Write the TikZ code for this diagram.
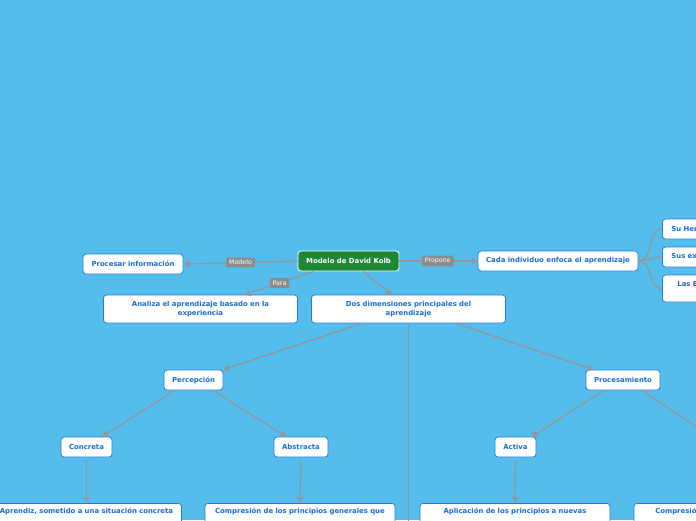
\documentclass[tikz,border=0pt]{standalone}
\usepackage{fontspec}
\setmainfont{DejaVu Sans}
\usetikzlibrary{arrows.meta}
\definecolor{bg}{RGB}{85,189,235}
\definecolor{nodeblue}{RGB}{30,125,225}
\definecolor{txtblue}{RGB}{25,110,210}
\definecolor{kgreen}{RGB}{30,135,55}
\definecolor{lgrey}{RGB}{150,150,150}
\definecolor{labgrey}{RGB}{140,140,140}
\tikzset{
  box/.style={draw=nodeblue, line width=0.8pt, fill=white, rounded corners=3pt,
    text=txtblue, font=\fontsize{6.9}{9}\selectfont\bfseries, minimum height=20pt, inner xsep=7pt, align=center},
  boxtwo/.style={box, minimum height=28pt, minimum width=191pt, text width=180pt},
  boxbottom/.style={box, anchor=north, minimum width=190pt, text width=182pt, inner xsep=4pt, inner ysep=5pt},
  sidebox/.style={box, anchor=west, align=left, inner xsep=9pt},
  rootbox/.style={draw=white, line width=0.8pt, fill=kgreen, rounded corners=3pt,
    text=white, font=\fontsize{6.9}{9}\selectfont\bfseries, minimum height=20pt, minimum width=101pt},
  arr/.style={draw=lgrey, line width=1.2pt, -{Triangle[length=5.5pt,width=6.5pt]}},
  plain/.style={draw=lgrey, line width=1.2pt},
  lab/.style={fill=labgrey, text=white, font=\fontsize{6.3}{7}\selectfont, inner xsep=3pt, inner ysep=2.5pt, rounded corners=1pt}
}
\begin{document}
\begin{tikzpicture}[x=1pt,y=-1pt]
\useasboundingbox (0,0) rectangle (696,520);
\clip (0,0) rectangle (696,520);
\fill[bg] (0,0) rectangle (696,520);

\node[rootbox] (root) at (348.5,261) {Modelo de David Kolb};
\node[box, minimum width=100pt] (proc) at (133,264) {Procesar información};
\node[boxtwo] (anal) at (200.5,309) {Analiza el aprendizaje basado en la\\experiencia};
\node[boxtwo] (dos) at (408.5,309) {Dos dimensiones principales del\\aprendizaje};
\node[box, minimum width=160pt] (cada) at (558,261) {Cada individuo enfoca el aprendizaje};
\node[sidebox, text width=60pt] (her) at (662,229) {Su Herencia};
\node[sidebox, text width=80pt] (exp) at (662,257) {Sus experiencias};
\node[box, anchor=west, align=center, minimum height=27pt, inner xsep=15pt] (exi) at (662,288.5) {Las Exigencias del medio\\ambiente};

\node[box, minimum width=59pt] (per) at (193.5,380) {Percepción};
\node[box, minimum width=74pt] (pro) at (623,380) {Procesamiento};
\node[box, minimum width=51pt] (con) at (86.5,447) {Concreta};
\node[box, minimum width=54pt] (abs) at (301,447) {Abstracta};
\node[box, minimum width=41pt] (act) at (515.5,447) {Activa};

\node[boxbottom] (b1) at (86.5,503) {Aprendiz, sometido a una situación concreta\\ \strut\\ \strut};
\node[boxbottom] (b2) at (300,503) {Compresión de los principios generales que\\ \strut\\ \strut};
\node[boxbottom] (b3) at (515,503) {Aplicación de los principios a nuevas\\ \strut\\ \strut};
\node[boxbottom] (b4) at (729,503) {Compresión de la experiencia vivida a\\ \strut\\ \strut};

\coordinate (below) at (408.5,560);
\coordinate (reflex) at (712,437);

\draw[arr] (root.west) -- (proc.east) node[lab, pos=0.5] {Modelo};
\draw[arr] ([xshift=-34.5pt]root.south) -- ([xshift=44.5pt]anal.north) node[lab, pos=0.5] {Para};
\draw[arr] ([xshift=14.5pt]root.south) -- ([xshift=-16.5pt]dos.north);
\draw[arr] (root.east) -- (cada.west) node[lab, pos=0.49] {Propone};

\draw[plain] (cada.east) to[out=0,in=180] (her.west);
\draw[plain] (cada.east) to[out=0,in=180] (exp.west);
\draw[plain] (cada.east) to[out=0,in=180] (exi.west);

\draw[arr] ([xshift=-46.5pt]dos.south) -- ([xshift=30pt]per.north);
\draw[arr] ([xshift=47.5pt]dos.south) -- ([xshift=-29pt]pro.north);
\draw[plain] (dos.south) -- (below);

\draw[arr] ([xshift=-18.5pt]per.south) -- ([xshift=15.5pt]con.north);
\draw[arr] ([xshift=19.5pt]per.south) -- ([xshift=-15pt]abs.north);
\draw[arr] ([xshift=-19pt]pro.south) -- ([xshift=16.5pt]act.north);
\draw[plain] ([xshift=19pt]pro.south) -- (reflex);

\draw[arr, shorten <=3pt] (con.south) -- (b1.north);
\draw[arr, shorten <=3pt] (abs.south) -- (b2.north);
\draw[arr, shorten <=3pt] (act.south) -- (b3.north);
\end{tikzpicture}
\end{document}
